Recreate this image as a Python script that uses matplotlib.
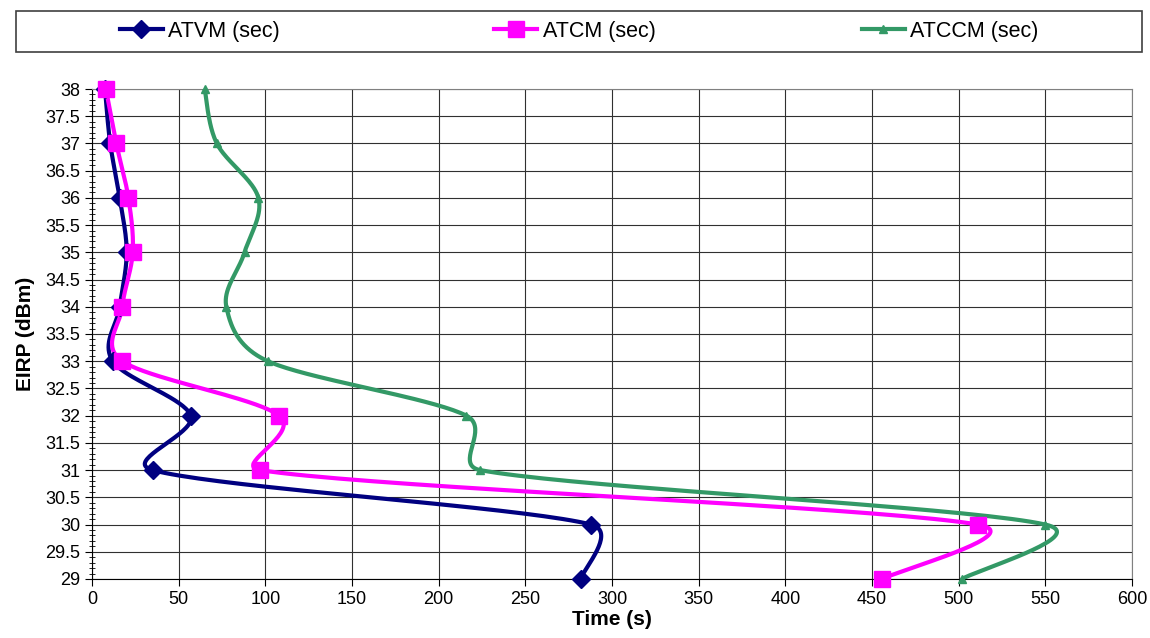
import numpy as np
import matplotlib.pyplot as plt
from matplotlib.ticker import MultipleLocator
from matplotlib.patches import Rectangle

plt.rcParams['font.family'] = ['Liberation Sans', 'DejaVu Sans']

# EIRP levels (dBm) and measured times (s)
eirp = [38, 37, 36, 35, 34, 33, 32, 31, 30, 29]
atvm = [7.5, 10.5, 16, 20, 16, 12, 57, 35, 288, 282]
atcm = [8, 14, 21, 23.5, 17.5, 17.5, 108, 97, 511, 456]
atccm = [65, 72, 96, 88, 77.5, 101.5, 216, 224, 550, 502]

labels = ["ATVM (sec)", "ATCM (sec)", "ATCCM (sec)"]
colors = ["#000080", "#FF00FF", "#339966"]
markers = ["D", "s", "^"]
msizes = [9, 11, 6]

# pixels per data unit, used only to measure segment lengths for smoothing
PX_X = 1040 / 600
PX_Y = 490 / 9


def smooth(xs, ys, n=40):
    # Excel-style smoothed line: Bezier arms of 1/6 of the neighbour chord,
    # capped at half of the segment length (measured on screen)
    p = np.column_stack([xs, ys]).astype(float)
    sc = np.array([PX_X, PX_Y])
    p = np.vstack([p[0], p, p[-1]])
    t = np.linspace(0, 1, n)[:, None]
    out = []
    for i in range(1, len(p) - 2):
        p0, p1, p2, p3 = p[i - 1], p[i], p[i + 1], p[i + 2]
        d02 = np.linalg.norm((p2 - p0) * sc)
        d12 = np.linalg.norm((p2 - p1) * sc)
        d13 = np.linalg.norm((p3 - p1) * sc)
        f1 = min(1 / 6, d12 / (2 * d02)) if d02 > 0 else 0
        f2 = min(1 / 6, d12 / (2 * d13)) if d13 > 0 else 0
        c1 = p1 + (p2 - p0) * f1
        c2 = p2 - (p3 - p1) * f2
        seg = ((1 - t) ** 3) * p1 + 3 * ((1 - t) ** 2) * t * c1 \
            + 3 * (1 - t) * t ** 2 * c2 + t ** 3 * p2
        out.append(seg)
    out = np.vstack(out)
    return out[:, 0], out[:, 1]


fig = plt.figure(figsize=(11.5, 6.38), dpi=100)
ax = fig.add_axes([92 / 1150, 1 - 579 / 638, 1040 / 1150, 490 / 638])

handles = []
for xs, lab, c, m, ms in zip([atvm, atcm, atccm], labels, colors, markers, msizes):
    sx, sy = smooth(xs, eirp)
    ax.plot(sx, sy, color=c, lw=3, solid_capstyle='round', zorder=3)
    ax.plot(xs, eirp, linestyle='none', marker=m, markersize=ms,
            color=c, zorder=4, clip_on=False)
    h, = ax.plot([], [], color=c, lw=3, marker=m, markersize=ms)
    handles.append(h)

ax.set_xlim(0, 600)
ax.set_ylim(29, 38)
ax.xaxis.set_major_locator(MultipleLocator(50))
ax.yaxis.set_major_locator(MultipleLocator(0.5))
ax.yaxis.set_minor_locator(MultipleLocator(0.1))
ax.yaxis.set_major_formatter(plt.FuncFormatter(lambda v, p: f"{v:g}"))
ax.grid(True, which='major', color='#303030', lw=0.8)
ax.set_axisbelow(True)
ax.tick_params(axis='both', which='major', labelsize=13, length=5, width=0.8)
ax.tick_params(axis='y', which='minor', direction='inout', length=5, width=0.6)
for s in ['top', 'right']:
    ax.spines[s].set_color('#808080')
ax.set_xlabel("Time (s)", fontsize=15, fontweight='bold', labelpad=1.5)
ax.set_ylabel("EIRP (dBm)", fontsize=15, fontweight='bold', labelpad=7)

# legend box across the top, one entry centred in each third
box = (16 / 1150, 1 - 52 / 638, 1126 / 1150, 41 / 638)
fig.patches.append(Rectangle(box[:2], box[2], box[3], transform=fig.transFigure,
                             facecolor='white', edgecolor='#404040', lw=1.2))
for k, (h, lab) in enumerate(zip(handles, labels)):
    cx = box[0] + box[2] * (k + 0.5) / 3 - 4 / 1150
    fig.legend([h], [lab], loc='center', bbox_to_anchor=(cx, box[1] + box[3] / 2),
               fontsize=15.5, frameon=False, handlelength=2.0,
               handletextpad=0.25, borderpad=0, borderaxespad=0)

fig.savefig("out.png", dpi=100)
